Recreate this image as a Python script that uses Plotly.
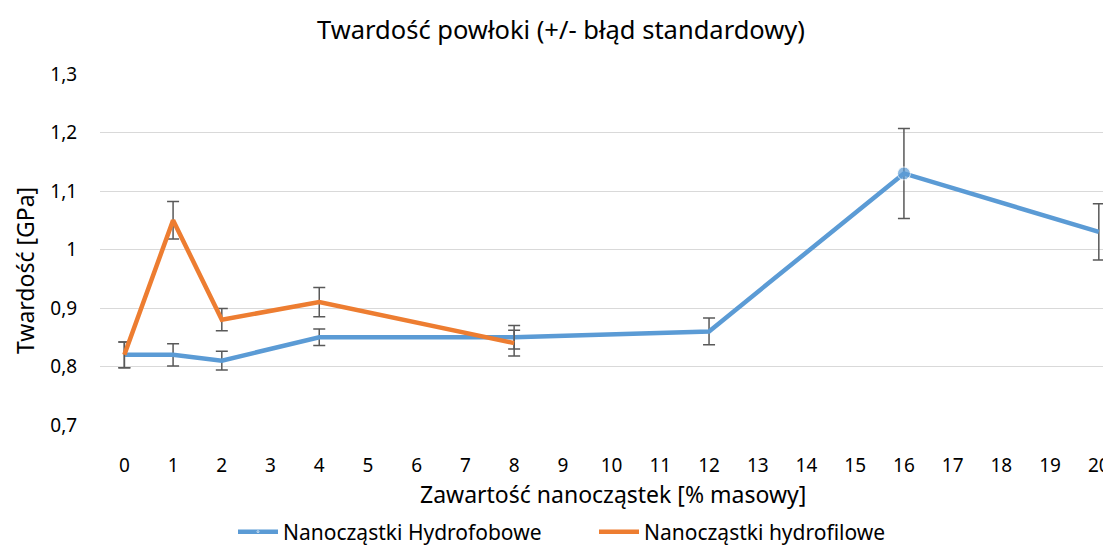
import plotly.graph_objects as go

# data
x_hydrofob = [0, 1, 2, 4, 8, 12, 16, 20]
y_hydrofob = [0.82, 0.82, 0.81, 0.85, 0.85, 0.86, 1.13, 1.03]
err_hydrofob = [0.022, 0.019, 0.016, 0.014, 0.02, 0.023, 0.077, 0.048]
marker_hydrofob = [0, 0, 0, 0, 0, 0, 13, 0]

x_hydrofil = [0, 1, 2, 4, 8]
y_hydrofil = [0.82, 1.05, 0.88, 0.91, 0.84]
err_hydrofil = [0.022, 0.032, 0.019, 0.025, 0.022]

x_ticks = list(range(21))
y_ticks = [0.7, 0.8, 0.9, 1.0, 1.1, 1.2, 1.3]
y_tick_text = ['0,7', '0,8', '0,9', '1', '1,1', '1,2', '1,3']

FONT = 'Noto Sans'
ERR = dict(type='data', visible=True, color='#595959', thickness=1.5, width=6)

# page body has an 8px margin, so the figure is 8px smaller and offset
W, H = 1103, 538

fig = go.Figure()
fig.add_trace(go.Scatter(
    x=x_hydrofob, y=y_hydrofob,
    mode='lines+markers',
    name='Nanocząstki Hydrofobowe',
    line=dict(color='#5B9BD5', width=4.5),
    marker=dict(color='#5B9BD5', size=marker_hydrofob),
    error_y=dict(array=err_hydrofob, **ERR),
))
fig.add_trace(go.Scatter(
    x=x_hydrofil, y=y_hydrofil,
    mode='lines',
    name='Nanocząstki hydrofilowe',
    line=dict(color='#ED7D31', width=4.5),
    error_y=dict(array=err_hydrofil, **ERR),
))

fig.update_layout(
    width=W, height=H,
    margin=dict(l=92, r=0, t=66, b=121),
    paper_bgcolor='white', plot_bgcolor='white',
    font=dict(family=FONT, color='#000000', size=19),
    title=dict(text='Twardość powłoki (+/- błąd standardowy)', x=553 / W, xanchor='center',
               y=1 - 22 / H, yanchor='middle', xref='container', yref='container',
               font=dict(size=25.5, family=FONT, color='#000000')),
    showlegend=True,
    legend=dict(orientation='h', xref='container', yref='container', x=586 / W, xanchor='center',
                y=1 - 524 / H, yanchor='middle', font=dict(size=21, family=FONT),
                itemwidth=40, entrywidth=306, traceorder='normal'),
    annotations=[
        dict(text='Twardość [GPa]', textangle=-90, xref='paper', yref='paper',
             x=(17 - 92) / 1011, y=(417 - 263) / 351, showarrow=False,
             xanchor='center', yanchor='middle', font=dict(size=23, family=FONT)),
        dict(text='Zawartość nanocząstek [% masowy]', xref='paper', yref='paper',
             x=(605 - 92) / 1011, y=(417 - 486) / 351, showarrow=False,
             xanchor='center', yanchor='middle', font=dict(size=23, family=FONT)),
    ],
)
fig.update_xaxes(
    range=[-0.5, 20.25], tickvals=x_ticks, showgrid=False, zeroline=False,
    showline=False, ticks='outside', ticklen=23, tickcolor='rgba(0,0,0,0)',
    tickfont=dict(size=19),
)
fig.update_yaxes(
    range=[0.7, 1.3], tickvals=y_ticks, ticktext=y_tick_text,
    showgrid=True, gridcolor='#D9D9D9', gridwidth=1, zeroline=False, showline=False,
    ticks='outside', ticklen=18, tickcolor='rgba(0,0,0,0)', tickfont=dict(size=19),
)

fig.write_html('out.html')
